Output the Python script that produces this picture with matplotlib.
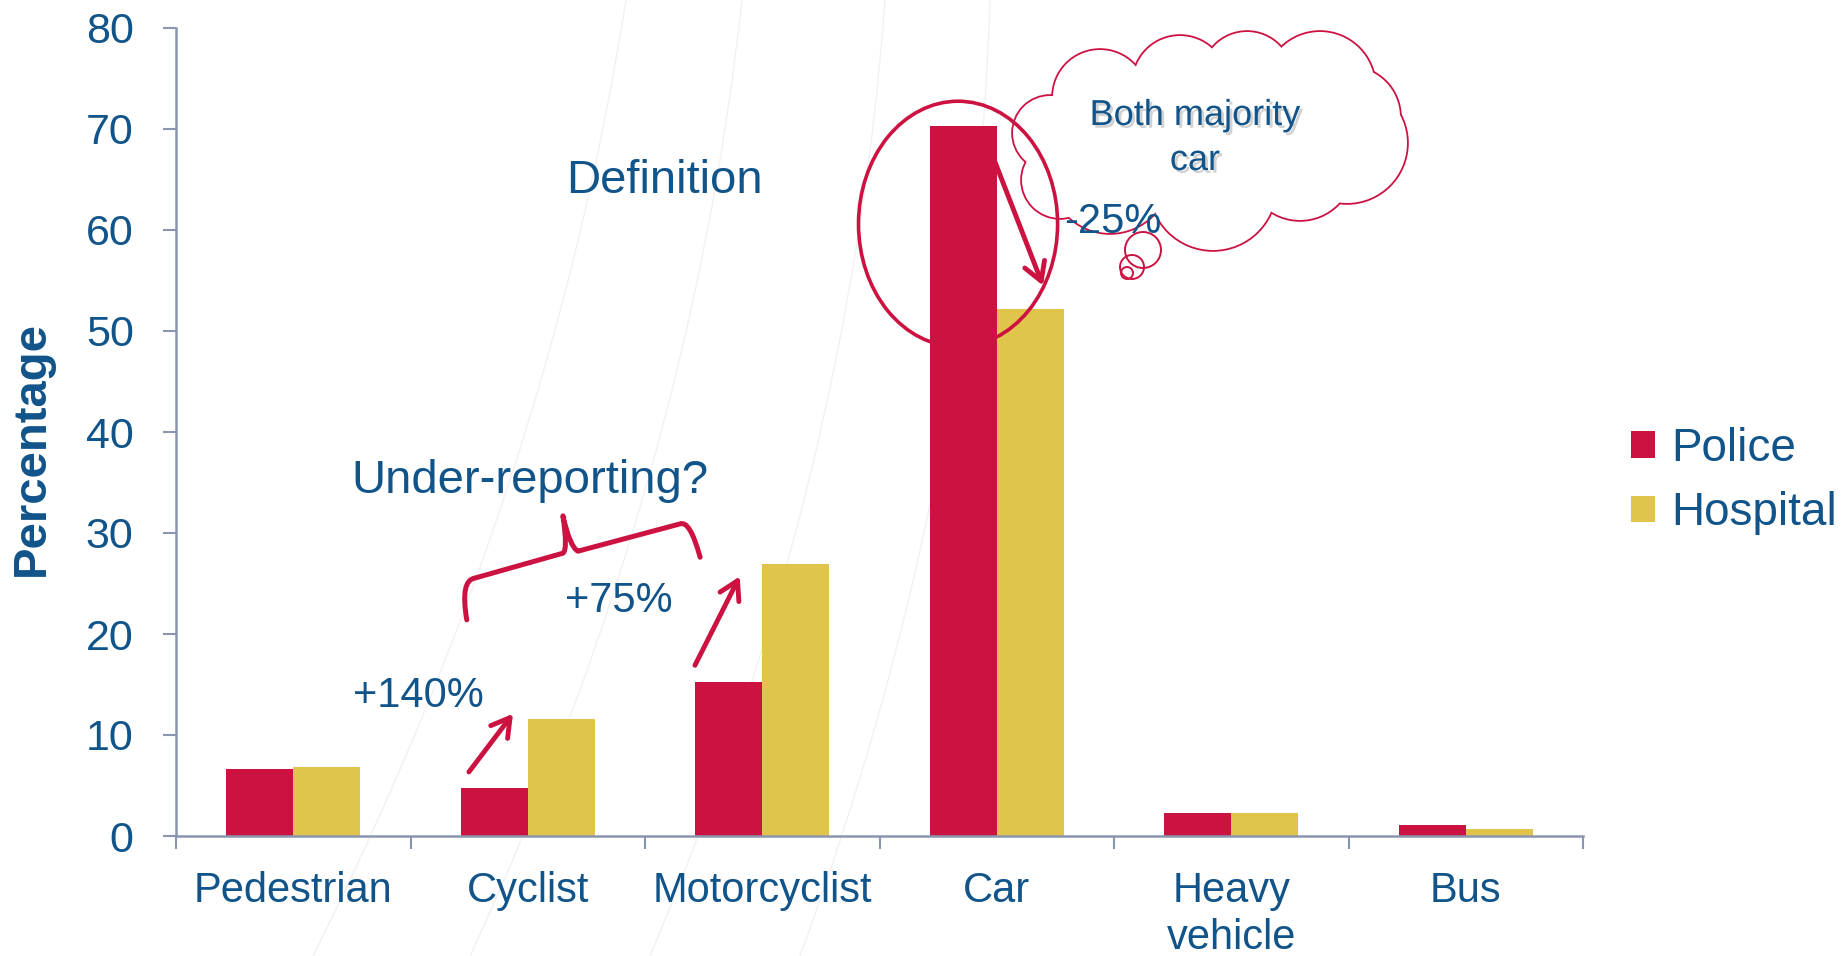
import matplotlib
matplotlib.use('Agg')
import matplotlib.pyplot as plt
import matplotlib.patches as mpatches
import matplotlib.patheffects as pe
from matplotlib.path import Path
import numpy as np

# data
categories = ['Pedestrian', 'Cyclist', 'Motorcyclist', 'Car', 'Heavy\nvehicle', 'Bus']
police = [6.6, 4.8, 15.2, 70.3, 2.3, 1.1]
hospital = [6.8, 11.6, 26.9, 52.2, 2.3, 0.7]
yticks = [0, 10, 20, 30, 40, 50, 60, 70, 80]

red = '#CC1241'
yellow = '#E0C44C'
blue = '#11548A'
axcol = '#8A96B0'

plt.rcParams['font.family'] = ['Liberation Sans', 'DejaVu Sans']

fig = plt.figure(figsize=(18.48, 9.56), dpi=100)

# background layer in pixel coords (slide decoration + cloud)
bg = fig.add_axes([0, 0, 1, 1])
bg.set_xlim(0, 1848)
bg.set_ylim(956, 0)
bg.axis('off')
bg.set_zorder(0)

# faint slide swooshes
swoosh = [((626, 0), (510, 480), (313, 956)),
          ((742, 0), (648, 480), (470, 956)),
          ((885, 0), (809, 480), (650, 956)),
          ((990, 0), (935, 480), (800, 956))]
for p0, pm, p1 in swoosh:
    p0, pm, p1 = np.array(p0), np.array(pm), np.array(p1)
    c = 2 * pm - (p0 + p1) / 2
    path = Path([p0, c, p1], [Path.MOVETO, Path.CURVE3, Path.CURVE3])
    bg.add_patch(mpatches.PathPatch(path, fill=False, ec='#F4F0F2', lw=1.0))

# thought cloud
cloud = [(1050, 133, 37), (1100, 97, 47), (1180, 83, 47), (1247, 77, 45),
         (1320, 87, 55), (1350, 117, 50), (1347, 143, 60), (1300, 167, 53),
         (1213, 187, 63), (1110, 173, 60), (1060, 180, 38), (1207, 137, 83)]
for cx, cy, r in cloud:
    bg.add_patch(mpatches.Circle((cx, cy), r, fc='none', ec=red, lw=2.6, zorder=1))
for cx, cy, r in cloud:
    bg.add_patch(mpatches.Circle((cx, cy), r, fc='white', ec='none', zorder=2))
for cx, cy, r in [(1143, 250, 18), (1132, 267, 12), (1127, 273, 6)]:
    bg.add_patch(mpatches.Circle((cx, cy), r, fc='none', ec=red, lw=1.4, zorder=3))
shadow = [pe.withSimplePatchShadow(offset=(2, -2), shadow_rgbFace='gray', alpha=0.35)]
bg.text(1195, 125, 'Both majority', color=blue, fontsize=26, ha='center',
        va='baseline', zorder=4, path_effects=shadow)
bg.text(1195, 170, 'car', color=blue, fontsize=26, ha='center',
        va='baseline', zorder=4, path_effects=shadow)

# main chart
ax = fig.add_axes([176 / 1848, 1 - 836 / 956, (1583 - 176) / 1848, (836 - 28) / 956])
ax.set_zorder(1)
ax.patch.set_alpha(0)
x = np.arange(len(categories))
w = 0.286
ax.bar(x - w / 2, police, w, color=red, label='Police')
ax.bar(x + w / 2, hospital, w, color=yellow, label='Hospital')
ax.set_xlim(-0.5, len(categories) - 0.5)
ax.set_ylim(0, 80)
ax.set_yticks(yticks)
ax.set_xticks(x)
ax.set_xticklabels(categories, linespacing=1.25)
ax.set_xticks(np.arange(-0.5, len(categories), 1), minor=True)
for s in ['top', 'right']:
    ax.spines[s].set_visible(False)
for s in ['left', 'bottom']:
    ax.spines[s].set_color(axcol)
    ax.spines[s].set_linewidth(1.8)
ax.tick_params(axis='y', direction='out', length=9.5, width=1.5, color=axcol,
               labelsize=31, labelcolor=blue, pad=21)
ax.tick_params(axis='x', which='major', length=0, pad=25, labelsize=30, labelcolor=blue)
ax.tick_params(axis='x', which='minor', direction='out', length=9, width=1.5, color=axcol)

fig.text(32 / 1848, 1 - 448 / 956, 'Percentage', rotation=90, ha='center', va='center',
         fontsize=34, fontweight='bold', color=blue)

ax.legend(loc='center left', bbox_to_anchor=(1631 / 1848, 1 - 481 / 956),
          bbox_transform=fig.transFigure, frameon=False, fontsize=33,
          labelcolor=blue, handlelength=0.52, handleheight=0.52,
          handletextpad=0.35, labelspacing=0.45, borderpad=0, borderaxespad=0)

# annotations
ax.text(1.584, 63.7, 'Definition', color=blue, fontsize=34, ha='center', va='baseline')
ax.text(1.01, 33.96, 'Under-reporting?', color=blue, fontsize=34, ha='center', va='baseline')
ax.text(1.387, 22.2, '+75%', color=blue, fontsize=30, ha='center', va='baseline')
ax.text(0.532, 12.8, '+140%', color=blue, fontsize=30, ha='center', va='baseline')
ax.text(3.497, 59.7, '-25%', color=blue, fontsize=30, ha='center', va='baseline', zorder=5)

arrows = [((0.749, 6.34), (0.937, 12.1)),
          ((1.713, 16.9), (1.904, 25.7)),
          ((2.963, 68.5), (3.197, 54.5))]
for start, end in arrows:
    ax.annotate('', xy=end, xytext=start,
                arrowprops=dict(arrowstyle='->,head_length=0.65,head_width=0.38',
                                color=red, lw=3.5, shrinkA=0, shrinkB=0,
                                mutation_scale=20))

ax.add_patch(mpatches.Ellipse((2.835, 60.6), 0.849, 24.3, fc='none', ec=red,
                              lw=2.6, clip_on=False, zorder=4))

brace_pts = [(0.740, 21.4), (0.711, 25.35), (0.775, 25.54), (1.150, 28.0),
             (1.172, 28.3), (1.150, 31.7), (1.180, 28.6), (1.214, 28.2),
             (1.649, 30.9), (1.692, 31.3), (1.735, 27.6)]
brace_codes = [Path.MOVETO, Path.CURVE3, Path.CURVE3, Path.LINETO,
               Path.CURVE3, Path.CURVE3, Path.CURVE3, Path.CURVE3,
               Path.LINETO, Path.CURVE3, Path.CURVE3]
ax.add_patch(mpatches.PathPatch(Path(brace_pts, brace_codes), fill=False, ec=red,
                                lw=3.6, capstyle='round', joinstyle='round'))

fig.savefig('out.png', dpi=100)
